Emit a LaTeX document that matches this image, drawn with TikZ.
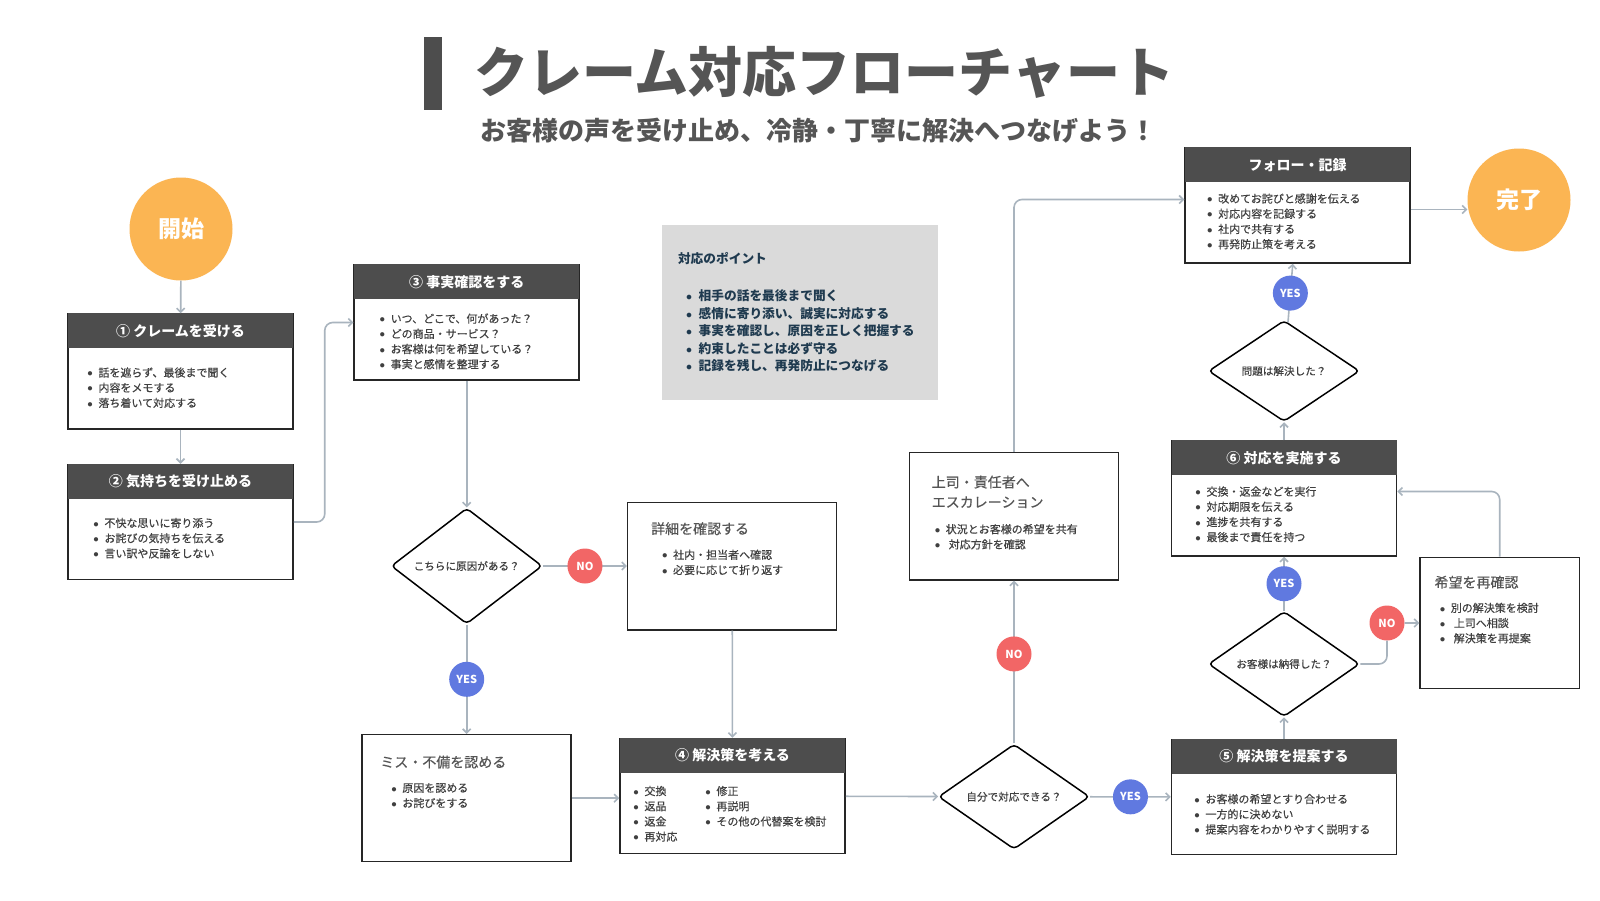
\documentclass[tikz,border=0pt]{standalone}
\usepackage{fontspec}
\setmainfont{Noto Sans CJK JP}
\newfontfamily\bodyfont[FakeBold=0.35]{Noto Sans CJK JP}
\usetikzlibrary{calc,positioning,shapes.geometric,arrows.meta}

\definecolor{hdrgray}{HTML}{4D4D4D}
\definecolor{titlegray}{HTML}{555555}
\definecolor{txtgray}{HTML}{404040}
\definecolor{flowline}{HTML}{A9B4BE}
\definecolor{sunorange}{HTML}{FBB553}
\definecolor{nored}{HTML}{F26666}
\definecolor{yesblue}{HTML}{6079E0}
\definecolor{pointbg}{HTML}{DADADA}
\definecolor{pointtxt}{HTML}{1F3A4F}

\newcommand{\itm}{\makebox[1em][l]{$\bullet$}}

\tikzset{
  stepbox/.style={draw=black!85, line width=1.5pt, fill=white, inner sep=0pt,
    minimum width=225pt, minimum height=115pt},
  notebox/.style={draw=black!85, line width=1.5pt, fill=white, inner sep=0pt},
  hdr/.style={fill=hdrgray, text=white, inner sep=0pt, minimum width=225pt,
    minimum height=35pt, font=\fontsize{14}{16}\selectfont\bfseries},
  lst/.style={anchor=north west, inner sep=0pt, align=left, text=txtgray,
    font=\bodyfont\fontsize{11}{15.2}\selectfont},
  ttl/.style={anchor=north west, inner sep=0pt, align=left, text=titlegray,
    font=\bodyfont\fontsize{14}{20}\selectfont},
  term/.style={circle, fill=sunorange, text=white, minimum size=103pt,
    inner sep=0pt, font=\fontsize{23}{26}\selectfont\bfseries},
  ask/.style={diamond, draw=black, line width=1.5pt, fill=white,
    rounded corners=4pt, minimum width=151pt, minimum height=101pt,
    inner sep=0pt, text=txtgray, font=\bodyfont\fontsize{10.6}{12}\selectfont},
  yesdot/.style={circle, fill=yesblue, text=white, minimum size=35pt,
    inner sep=0pt, font=\fontsize{11}{12}\selectfont\bfseries},
  nodot/.style={yesdot, fill=nored},
  flow/.style={draw=flowline, line width=1.6pt,
    -{Straight Barb[length=4pt,width=8pt]}},
  link/.style={draw=flowline, line width=1.6pt}
}

\begin{document}
\begin{tikzpicture}[x=1pt,y=-1pt,node distance=20pt]
  \fill[white] (0,0) rectangle (1600,900);
  \useasboundingbox (0,0) rectangle (1600,900);

  % title
  \node[fill=hdrgray, minimum width=18pt, minimum height=73pt, inner sep=0pt] (bar) at (433,73.5) {};
  \node[anchor=west, inner sep=0pt, text=titlegray, font=\fontsize{54}{60}\selectfont\bfseries] (title) at (474,72) {クレーム対応フローチャート};
  \node[inner sep=0pt, text=titlegray, font=\fontsize{26}{30}\selectfont\bfseries] (sub) at (818,131) {お客様の声を受け止め、冷静・丁寧に解決へつなげよう！};

  % start and end
  \node[term] (start) at (181,229) {開始};
  \node[term] (done) at (1519,200) {完了};

  % steps
  \node[stepbox] (b1) at (180.5,371.5) {};
  \node[hdr, below=0pt of b1.north] (b1H) {① クレームを受ける};
  \node[lst, below right=54pt and 20pt of b1.north west] (b1L) {\itm 話を遮らず、最後まで聞く\\ \itm 内容をメモする\\ \itm 落ち着いて対応する};

  \node[stepbox] (b2) at (180.5,522) {};
  \node[hdr, below=0pt of b2.north] (b2H) {② 気持ちを受け止める};
  \node[lst, below right=54pt and 26pt of b2.north west] (b2L) {\itm 不快な思いに寄り添う\\ \itm お詫びの気持ちを伝える\\ \itm 言い訳や反論をしない};

  \node[stepbox] (b3) at (466.7,322.5) {};
  \node[hdr, below=0pt of b3.north] (b3H) {③ 事実確認をする};
  \node[lst, below right=49pt and 26pt of b3.north west] (b3L) {\itm いつ、どこで、何があった？\\ \itm どの商品・サービス？\\ \itm お客様は何を希望している？\\ \itm 事実と感情を整理する};

  \node[stepbox] (b4) at (732.5,796) {};
  \node[hdr, below=0pt of b4.north] (b4H) {④ 解決策を考える};
  \node[lst, below right=48pt and 14pt of b4.north west] (b4L) {\itm 交換\\ \itm 返品\\ \itm 返金\\ \itm 再対応};
  \node[lst, below right=48pt and 86pt of b4.north west] (b4R) {\itm 修正\\ \itm 再説明\\ \itm その他の代替案を検討};

  \node[stepbox] (b5) at (1284,797) {};
  \node[hdr, below=0pt of b5.north] (b5H) {⑤ 解決策を提案する};
  \node[lst, below right=55pt and 23.5pt of b5.north west] (b5L) {\itm お客様の希望とすり合わせる\\ \itm 一方的に決めない\\ \itm 提案内容をわかりやすく説明する};

  \node[stepbox] (b6) at (1284,498.5) {};
  \node[hdr, below=0pt of b6.north] (b6H) {⑥ 対応を実施する};
  \node[lst, below right=46pt and 24.5pt of b6.north west] (b6L) {\itm 交換・返金などを実行\\ \itm 対応期限を伝える\\ \itm 進捗を共有する\\ \itm 最後まで責任を持つ};

  \node[stepbox] (fol) at (1297.5,205.5) {};
  \node[hdr, below=0pt of fol.north] (folH) {フォロー・記録};
  \node[lst, below right=46pt and 22.7pt of fol.north west] (folL) {\itm 改めてお詫びと感謝を伝える\\ \itm 対応内容を記録する\\ \itm 社内で共有する\\ \itm 再発防止策を考える};

  % side boxes
  \node[notebox, minimum width=209pt, minimum height=127.5pt] (det) at (732.2,566) {};
  \node[ttl, below right=20.5pt and 24pt of det.north west] (detT) {詳細を確認する};
  \node[lst, below right=48pt and 35pt of det.north west] (detL) {\itm 社内・担当者へ確認\\ \itm 必要に応じて折り返す};

  \node[notebox, minimum width=209pt, minimum height=127pt] (mis) at (466.7,798.2) {};
  \node[ttl, below right=21.5pt and 18.7pt of mis.north west] (misT) {ミス・不備を認める};
  \node[lst, below right=49pt and 29.7pt of mis.north west] (misL) {\itm 原因を認める\\ \itm お詫びをする};

  \node[notebox, minimum width=208.6pt, minimum height=127.3pt] (esc) at (1014,516.3) {};
  \node[ttl, below right=23.5pt and 22.6pt of esc.north west] (escT) {上司・責任者へ\\エスカレーション};
  \node[lst, below right=72pt and 25.6pt of esc.north west] (escL) {\itm 状況とお客様の希望を共有\\ \itm\hspace{3pt}対応方針を確認};

  \node[notebox, minimum width=159.3pt, minimum height=131pt] (rc) at (1499.7,622.8) {};
  \node[ttl, below right=19pt and 15pt of rc.north west] (rcT) {希望を再確認};
  \node[lst, below right=46pt and 20.3pt of rc.north west] (rcL) {\itm 別の解決策を検討\\ \itm\hspace{3pt}上司へ相談\\ \itm\hspace{3pt}解決策を再提案};

  % points
  \node[fill=pointbg, minimum width=276pt, minimum height=175pt, inner sep=0pt] (pts) at (799.7,312.5) {};
  \node[anchor=north west, inner sep=0pt, text=pointtxt, font=\fontsize{12.7}{14}\selectfont\bfseries, below right=27pt and 16.3pt of pts.north west] (ptsT) {対応のポイント};
  \node[anchor=north west, inner sep=0pt, align=left, text=pointtxt, font=\fontsize{12.7}{17.4}\selectfont\bfseries, below right=65pt and 24.3pt of pts.north west] (ptsL) {\itm 相手の話を最後まで聞く\\ \itm 感情に寄り添い、誠実に対応する\\ \itm 事実を確認し、原因を正しく把握する\\ \itm 約束したことは必ず守る\\ \itm 記録を残し、再発防止につなげる};

  % decisions
  \node[ask] (d1) at (466.7,566) {こちらに原因がある？};
  \node[ask] (d2) at (1014,796.7) {自分で対応できる？};
  \node[ask] (d3) at (1284,664) {お客様は納得した？};
  \node[ask] (d4) at (1284,371) {問題は解決した？};
  \node[nodot] (n3) at (1387,623) {NO};

  % connectors
  \draw[flow] (start) -- (b1);
  \draw[flow] (b1) -- (b2);
  \draw[flow, rounded corners=8pt] (b2.east) -- ++(31,0) |- (b3.west);
  \draw[flow] (b3) -- (d1);
  \draw[flow] (d1) -- node[nodot] (n1) {NO} (det);
  \draw[flow] (d1) -- node[yesdot] (y1) {YES} (mis);
  \draw[flow] (det) -- (b4);
  \draw[flow] (mis.east) -- (mis.east -| b4.west);
  \draw[flow] (b4) -- (d2);
  \draw[flow] (d2) -- node[nodot, pos=0.55] (n2) {NO} (esc);
  \draw[flow] (d2) -- node[yesdot] (y2) {YES} (b5);
  \draw[flow, rounded corners=8pt] (esc.north) |- ([yshift=6pt]fol.west);
  \draw[flow] (b5) -- (d3);
  \draw[flow] (d3) -- node[yesdot] (y3) {YES} (b6);
  \draw[link, rounded corners=8pt] (d3.east) -| (n3.south);
  \draw[flow] (n3) -- (rc);
  \draw[flow, rounded corners=8pt] (rc.north) |- ([yshift=7pt]b6.east);
  \draw[flow] (b6) -- (d4);
  \draw[flow] (d4) -- node[yesdot] (y4) {YES} (fol);
  \draw[flow] ([yshift=-4pt]fol.east) -- ([yshift=-4pt]fol.east -| done.west);
\end{tikzpicture}
\end{document}
